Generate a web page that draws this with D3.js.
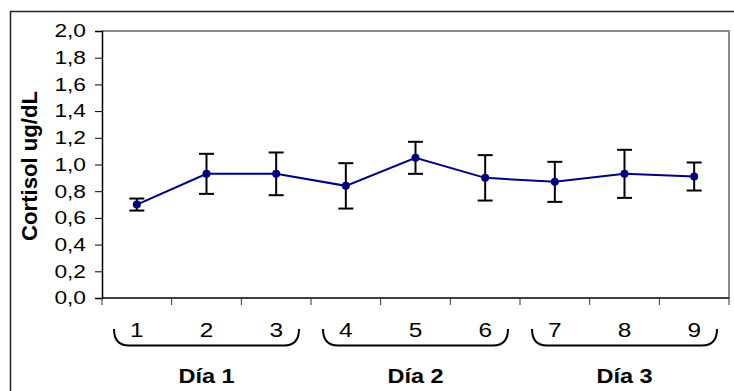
<!DOCTYPE html>
<html>
<head>
<meta charset="utf-8">
<script src="https://cdn.jsdelivr.net/npm/d3@7"></script>
<style>
  html, body { margin: 0; padding: 0; background: #fff; }
  svg { display: block; font-family: Arial, "Liberation Sans", sans-serif; }
</style>
</head>
<body>
<svg id="chart" width="734" height="391"></svg>
<script>
// Cortisol samples (ug/dL), three per day
const samples = ["1", "2", "3", "4", "5", "6", "7", "8", "9"];
const cortisol = [0.70, 0.93, 0.93, 0.84, 1.05, 0.90, 0.87, 0.93, 0.91];
const errors   = [0.045, 0.15, 0.16, 0.17, 0.12, 0.17, 0.15, 0.18, 0.105];
const days = ["Día 1", "Día 2", "Día 3"];
const dayStart = ["1", "4", "7"];
const dayEnd = ["3", "6", "9"];
const yTicks = [0, 0.2, 0.4, 0.6, 0.8, 1.0, 1.2, 1.4, 1.6, 1.8, 2.0];
const yTitle = "Cortisol ug/dL";

const svg = d3.select("#chart");
const plot = { left: 102, right: 729, top: 31, bottom: 298 };

const x = d3.scaleBand().domain(samples).range([plot.left, plot.right]);
const y = d3.scaleLinear().domain([0, 2]).range([plot.bottom, plot.top]);
const fmt = v => d3.format(".1f")(v).replace(".", ",");
const cx = d => x(d) + x.bandwidth() / 2;

// text with a horizontal stretch, as the labels are drawn wide
function label(g, tx, ty, str, opts) {
  return g.append("text")
    .attr("transform", `translate(${tx},${ty}) scale(${opts.sx || 1},1)`)
    .attr("text-anchor", opts.anchor || "middle")
    .attr("dy", opts.dy || null)
    .attr("font-size", opts.size)
    .attr("font-weight", opts.bold ? "bold" : null)
    .attr("fill", "#000")
    .text(str);
}

// outer frame (top and left edges)
svg.append("path")
  .attr("d", `M10.5,391 V11.5 H734`)
  .attr("fill", "none").attr("stroke", "#222").attr("stroke-width", 1.5);

// plot-area border (top and right)
svg.append("path")
  .attr("d", `M${plot.left},${plot.top} H${plot.right} V${plot.bottom}`)
  .attr("fill", "none").attr("stroke", "#8c8c8c").attr("stroke-width", 2);

// y axis: ticks from the scale, labels drawn wide
const yAxis = svg.append("g")
  .attr("transform", `translate(${plot.left},0)`)
  .call(d3.axisLeft(y).tickValues(yTicks).tickFormat("").tickSize(7));
yAxis.select(".domain").attr("stroke", "#000").attr("stroke-width", 1.5);
yAxis.selectAll(".tick line").attr("stroke", "#000");
const yLab = svg.append("g");
yTicks.forEach(v => label(yLab, 86, y(v), fmt(v), { anchor: "end", dy: "0.36em", size: 17.5, sx: 1.3 }));

// x axis: ticks at category boundaries
const xAxisG = svg.append("g").attr("transform", `translate(0,${plot.bottom})`);
xAxisG.append("line")
  .attr("x1", plot.left).attr("x2", plot.right)
  .attr("stroke", "#000").attr("stroke-width", 1.5);
const bounds = samples.map(s => x(s)).concat([x(samples[samples.length - 1]) + x.bandwidth()]);
xAxisG.selectAll("line.tk").data(bounds).join("line").attr("class", "tk")
  .attr("x1", d => d).attr("x2", d => d).attr("y1", 0).attr("y2", 7)
  .attr("stroke", "#333").attr("stroke-width", 1);

// sample labels
const xLab = svg.append("g");
samples.forEach(s => label(xLab, cx(s), 336.5, s, { size: 19.5, sx: 1.25 }));

// day braces and day names
const r = 15, braceTop = 329, braceBottom = 345.5, inset = 12;
days.forEach((day, i) => {
  const x0 = x(dayStart[i]) + inset;
  const x1 = x(dayEnd[i]) + x.bandwidth() - inset;
  svg.append("path")
    .attr("d", `M${x0},${braceTop} Q${x0},${braceBottom} ${x0 + r},${braceBottom} H${x1 - r} Q${x1},${braceBottom} ${x1},${braceTop}`)
    .attr("fill", "none").attr("stroke", "#000").attr("stroke-width", 2);
  label(svg, (x(dayStart[i]) + x(dayEnd[i]) + x.bandwidth()) / 2, 383, day, { size: 21, bold: true, sx: 1.12 });
});

// y axis title
svg.append("text")
  .attr("transform", `translate(36.5,166) rotate(-90) scale(1.03,1)`)
  .attr("text-anchor", "middle")
  .attr("font-size", 21.5).attr("font-weight", "bold")
  .text(yTitle);

// error bars
const eb = svg.append("g").attr("stroke", "#000").attr("stroke-width", 2);
samples.forEach((s, i) => {
  const hi = y(cortisol[i] + errors[i]), lo = y(cortisol[i] - errors[i]);
  eb.append("line").attr("x1", cx(s)).attr("x2", cx(s)).attr("y1", hi).attr("y2", lo);
  eb.append("line").attr("x1", cx(s) - 7.5).attr("x2", cx(s) + 7.5).attr("y1", hi).attr("y2", hi);
  eb.append("line").attr("x1", cx(s) - 7.5).attr("x2", cx(s) + 7.5).attr("y1", lo).attr("y2", lo);
});

// mean line and markers
svg.append("path")
  .datum(samples.map((s, i) => [cx(s), y(cortisol[i])]))
  .attr("d", d3.line())
  .attr("fill", "none").attr("stroke", "#000080").attr("stroke-width", 2);
svg.append("g").selectAll("circle").data(samples).join("circle")
  .attr("cx", d => cx(d)).attr("cy", (d, i) => y(cortisol[i]))
  .attr("r", 4).attr("fill", "#000080");
</script>
</body>
</html>
